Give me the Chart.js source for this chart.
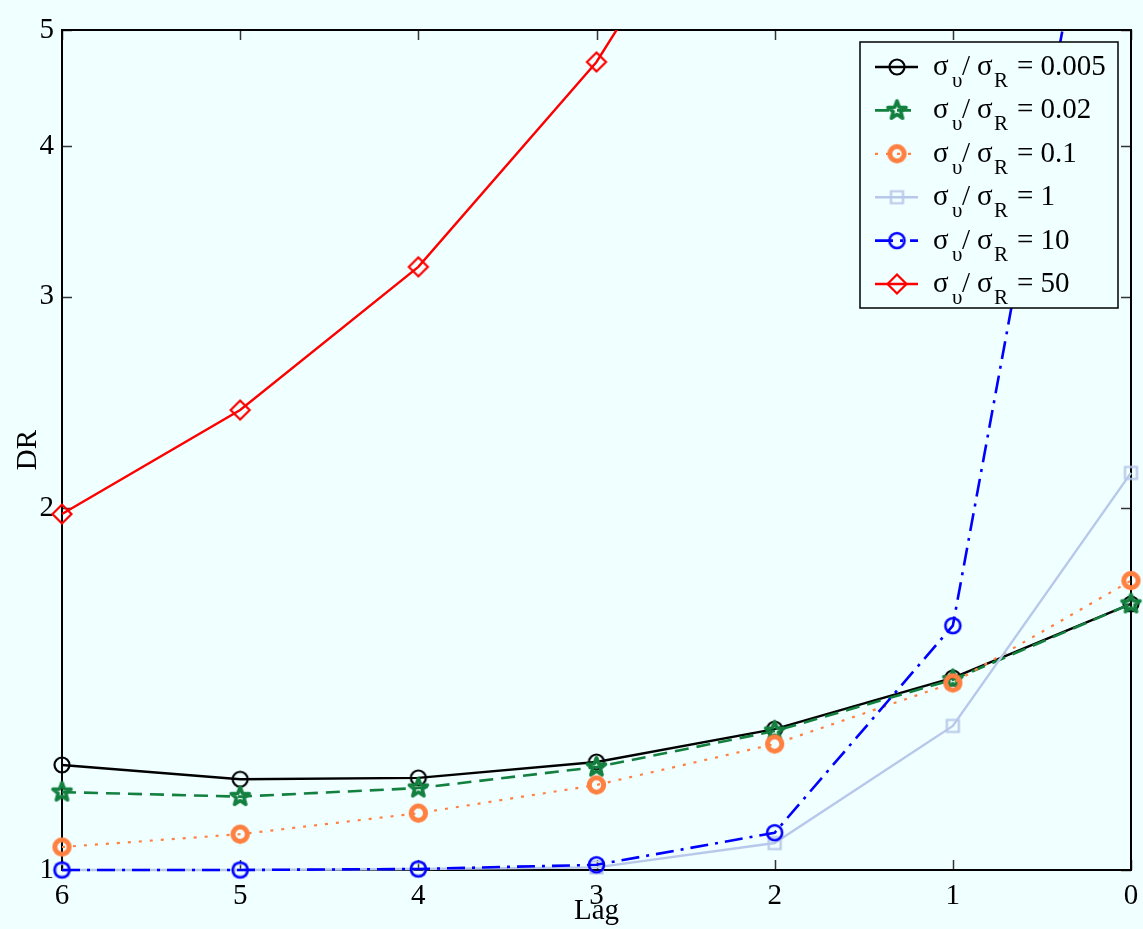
<!DOCTYPE html>
<html>
<head>
<meta charset="utf-8">
<script src="https://cdn.jsdelivr.net/npm/chart.js@4.4.1/dist/chart.umd.min.js"></script>
<style>
  html, body { margin: 0; padding: 0; background: #f0ffff; }
  #wrap { width: 1143px; height: 929px; }
</style>
</head>
<body>
<div id="wrap"><canvas id="chart" width="1143" height="929"></canvas></div>
<script>
// values (DR against lag, log y axis)
const lags = [6, 5, 4, 3, 2, 1, 0];
const ratioLabels = ["0.005", "0.02", "0.1", "1", "10", "50"];
const dr0005 = [1.223, 1.190, 1.193, 1.230, 1.310, 1.445, 1.665];
const dr002  = [1.161, 1.151, 1.170, 1.218, 1.305, 1.440, 1.665];
const dr01   = [1.045, 1.071, 1.115, 1.177, 1.273, 1.431, 1.741];
const dr1    = [1.000, 1.000, 1.002, 1.005, 1.053, 1.318, 2.140];
const dr10   = [1.000, 1.000, 1.002, 1.010, 1.074, 1.597, 10.2];
const dr50   = [1.978, 2.414, 3.176, 4.703, 8.1, null, null]; // rest is off the top
const xTicks = [6, 5, 4, 3, 2, 1, 0];
const yTicks = [1, 2, 3, 4, 5];

const FONT = "'Liberation Serif', 'DejaVu Serif', serif";
const BG = "#f0ffff";

// marker images (same canvas used in plot and legend)
function makeMarker(kind, color, r, lw) {
  const s = Math.ceil(2 * (r + lw) + 2);
  const c = document.createElement("canvas");
  c.width = s; c.height = s;
  const g = c.getContext("2d");
  const m = s / 2;
  g.strokeStyle = color;
  g.lineWidth = lw;
  g.lineJoin = "miter";
  g.beginPath();
  if (kind === "circle") {
    g.arc(m, m, r, 0, Math.PI * 2);
  } else if (kind === "square") {
    g.rect(m - r, m - r, 2 * r, 2 * r);
  } else if (kind === "diamond") {
    g.moveTo(m - r, m); g.lineTo(m, m - r); g.lineTo(m + r, m); g.lineTo(m, m + r); g.closePath();
  } else if (kind === "star") {
    for (let i = 0; i < 10; i++) {
      const a = -Math.PI / 2 + i * Math.PI / 5;
      const rr = i % 2 === 0 ? r : r * 0.42;
      const px = m + rr * Math.cos(a), py = m + rr * Math.sin(a);
      if (i === 0) g.moveTo(px, py); else g.lineTo(px, py);
    }
    g.closePath();
    g.lineJoin = "round";
  }
  g.stroke();
  return c;
}

const series = [
  { data: dr0005, color: "#000000", dash: [],            lw: 2.4, marker: makeMarker("circle", "#000000", 7.5, 2.2) },
  { data: dr002,  color: "#138040", dash: [14, 8],       lw: 2.6, marker: makeMarker("star", "#138040", 9.5, 3.6) },
  { data: dr01,   color: "#ff8040", dash: [3, 8],        lw: 2.2, marker: makeMarker("circle", "#ff8040", 7.2, 5) },
  { data: dr1,    color: "#b8c8ea", dash: [],            lw: 2.4, marker: makeMarker("square", "#b8c8ea", 6, 2.2) },
  { data: dr10,   color: "#0000ff", dash: [18, 7, 3, 7], lw: 2.6, marker: makeMarker("circle", "#0000ff", 7.5, 2.6) },
  { data: dr50,   color: "#ff0000", dash: [],            lw: 2.4, marker: makeMarker("diamond", "#ff0000", 9.5, 2.2) }
];

const datasets = series.map((s, i) => ({
  label: ratioLabels[i],
  data: lags.map((l, j) => ({ x: l, y: s.data[j] })),
  borderColor: s.color,
  borderWidth: s.lw,
  borderDash: s.dash,
  backgroundColor: "transparent",
  pointStyle: s.marker,
  pointRadius: 8,
  tension: 0,
  spanGaps: false,
  order: series.length - i, // later series on top, like the original
  clip: { left: 14, right: 14, top: 0, bottom: 14 }
}));

// whole canvas background
const bgPlugin = {
  id: "bg",
  beforeDraw(chart) {
    const ctx = chart.ctx;
    ctx.save();
    ctx.fillStyle = BG;
    ctx.fillRect(0, 0, chart.width, chart.height);
    ctx.restore();
  }
};

// box around the axes with inward ticks on all four sides
const framePlugin = {
  id: "frame",
  beforeDatasetsDraw(chart) {
    const { ctx, chartArea: a, scales } = chart;
    const tl = 10;
    ctx.save();
    ctx.strokeStyle = "#333";
    ctx.lineWidth = 1.5;
    ctx.beginPath();
    xTicks.forEach(v => {
      const px = Math.round(scales.x.getPixelForValue(v)) + 0.5;
      ctx.moveTo(px, a.bottom); ctx.lineTo(px, a.bottom - tl);
      ctx.moveTo(px, a.top); ctx.lineTo(px, a.top + tl);
    });
    yTicks.forEach(v => {
      const py = Math.round(scales.y.getPixelForValue(v)) + 0.5;
      ctx.moveTo(a.left, py); ctx.lineTo(a.left + tl, py);
      ctx.moveTo(a.right, py); ctx.lineTo(a.right - tl, py);
    });
    ctx.stroke();
    ctx.strokeStyle = "#000";
    ctx.lineWidth = 2;
    ctx.strokeRect(a.left, a.top, a.right - a.left, a.bottom - a.top);
    ctx.restore();
  }
};

// legend text: sigma_upsilon / sigma_R = value
function drawRatio(ctx, x, y, val) {
  const big = "29px " + FONT, small = "21px " + FONT;
  ctx.textAlign = "left";
  ctx.textBaseline = "alphabetic";
  ctx.fillStyle = "#000";
  ctx.font = big;   ctx.fillText("σ", x, y + 8);
  ctx.font = small; ctx.fillText("υ", x + 19, y + 20);
  ctx.font = big;   ctx.fillText("/", x + 29, y + 8);
  ctx.fillText("σ", x + 44, y + 8);
  ctx.font = small; ctx.fillText("R", x + 61, y + 20);
  ctx.font = big;   ctx.fillText("= " + val, x + 84, y + 8);
}

const legendPlugin = {
  id: "ratioLegend",
  afterDraw(chart) {
    const ctx = chart.ctx;
    const a = chart.chartArea;
    const bx = a.right - 271, by = a.top + 12, bw = 258, bh = 266;
    ctx.save();
    ctx.fillStyle = BG;
    ctx.fillRect(bx, by, bw, bh);
    ctx.strokeStyle = "#000";
    ctx.lineWidth = 1.5;
    ctx.strokeRect(bx, by, bw, bh);
    series.forEach((s, i) => {
      const cy = by + 25 + i * 43.4;
      ctx.save();
      ctx.strokeStyle = s.color;
      ctx.lineWidth = s.lw;
      ctx.setLineDash(s.dash);
      ctx.beginPath();
      ctx.moveTo(bx + 15, cy); ctx.lineTo(bx + 58, cy);
      ctx.stroke();
      ctx.restore();
      ctx.drawImage(s.marker, bx + 37 - s.marker.width / 2, cy - s.marker.height / 2);
      drawRatio(ctx, bx + 73, cy, ratioLabels[i]);
    });
    ctx.restore();
  }
};

const chartEl = document.getElementById("chart");
new Chart(chartEl.getContext("2d"), {
  type: "line",
  data: { datasets },
  options: {
    responsive: false,
    devicePixelRatio: 1,
    animation: false,
    events: [],
    layout: { padding: { top: 30, right: 12, left: 0, bottom: 0 } },
    plugins: { legend: { display: false }, tooltip: { enabled: false } },
    scales: {
      x: {
        type: "linear",
        reverse: true,
        min: 0,
        max: 6,
        grid: { display: false, drawTicks: false },
        border: { display: false },
        afterBuildTicks: (scale) => { scale.ticks = xTicks.map(v => ({ value: v })); },
        afterFit: (scale) => { scale.height = 59; scale.paddingLeft = 0; scale.paddingRight = 0; },
        ticks: { color: "#000", padding: 9, font: { family: FONT, size: 29 }, callback: (v) => String(v) },
        title: { display: true, text: "Lag", color: "#000", padding: { top: 0, bottom: 0 }, font: { family: FONT, size: 29 } }
      },
      y: {
        type: "logarithmic",
        min: 1,
        max: 5,
        grid: { display: false, drawTicks: false },
        border: { display: false },
        afterBuildTicks: (scale) => { scale.ticks = yTicks.map(v => ({ value: v })); },
        afterFit: (scale) => { scale.width = 62; scale.paddingTop = 0; scale.paddingBottom = 0; },
        ticks: { color: "#000", padding: 8, font: { family: FONT, size: 29 }, callback: (v) => String(v) },
        title: { display: true, text: "DR", color: "#000", padding: { top: 11, bottom: 0 }, font: { family: FONT, size: 29 } }
      }
    }
  },
  plugins: [bgPlugin, framePlugin, legendPlugin]
});
</script>
</body>
</html>
